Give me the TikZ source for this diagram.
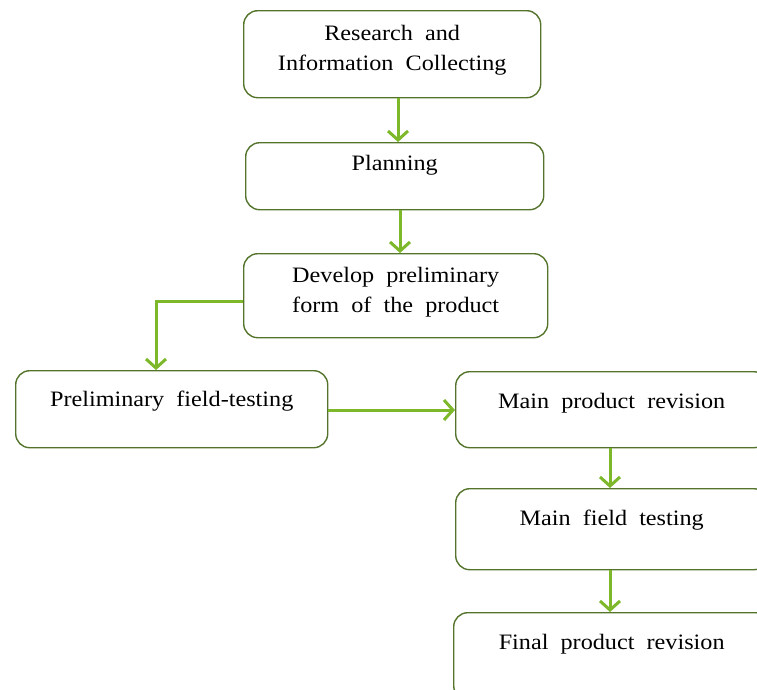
\documentclass[tikz,border=0pt]{standalone}
\usepackage{fontspec}
\setmainfont{Liberation Serif}[FakeStretch=1.1, WordSpace=2]
\usepackage{tikz}
\usetikzlibrary{positioning, arrows.meta}
\definecolor{boxgreen}{RGB}{84,116,44}
\definecolor{arrowgreen}{RGB}{124,184,42}
\tikzset{%
	flow/.style = {color = arrowgreen, line width = 3pt, -{Straight Barb[length = 9pt, width = 20pt]}},
	stage/.style = {draw = boxgreen, line width = 1.4pt, rounded corners = 14pt, anchor = north west,
		inner sep = 0pt, align = center, font = \fontsize{22}{30}\selectfont}
}
\begin{document}
\begin{tikzpicture}[x = 1pt, y = -1pt]
			\useasboundingbox (0,0) rectangle (757,689);
			\clip (0,0) rectangle (757,689);
			\node [stage, minimum width = 297pt, text height = 60pt, text depth = 27pt] (research) at (243,10) {Research and\\Information Collecting};
			\node [stage, minimum width = 298pt, text height = 28pt, text depth = 39pt] (planning) at (245,142) {Planning};
			\node [stage, minimum width = 304pt, text height = 59pt, text depth = 25pt] (develop) at (243,253) {Develop preliminary\\form of the product};
			\node [stage, minimum width = 312pt, text height = 36pt, text depth = 41pt] (prelim) at (15,370) {Preliminary field-testing};
			\node [stage, minimum width = 312pt, text height = 37pt, text depth = 39pt] (mainrev) at (455,371) {Main product revision};
			\node [stage, minimum width = 312pt, text height = 37pt, text depth = 44pt] (mainfield) at (455,488) {Main field testing};
			\node [stage, minimum width = 316pt, text height = 37pt, text depth = 50pt] (finalrev) at (453,612) {Final product revision};
			\path [flow] (research.south -| 398,0) edge (planning.north -| 398,0);
			\path [flow] (planning.south -| 400,0) edge (develop.north -| 400,0);
			\draw [flow] (develop.west |- 0,301) -| (prelim.north -| 156,0);
			\path [flow] (prelim.east |- 0,410) edge (mainrev.west |- 0,410);
			\path [flow] (mainrev.south -| 610,0) edge (mainfield.north -| 610,0);
			\path [flow] (mainfield.south -| 610,0) edge (finalrev.north -| 610,0);
			\end{tikzpicture}
\end{document}
